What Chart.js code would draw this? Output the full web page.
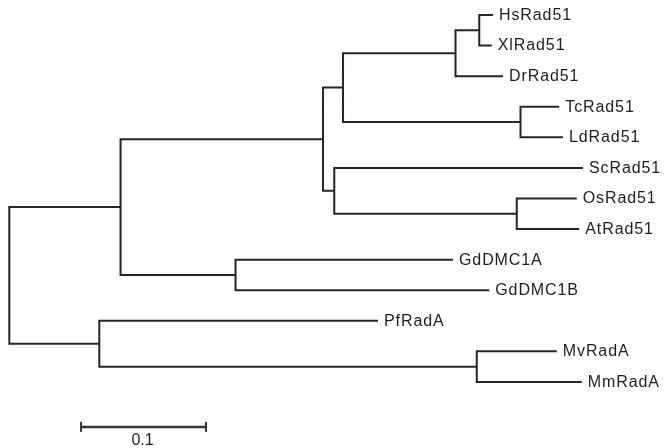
<!DOCTYPE html>
<html>
<head>
<meta charset="utf-8">
<script src="https://cdn.jsdelivr.net/npm/chart.js@4/dist/chart.umd.min.js"></script>
<style>
  html, body { margin: 0; padding: 0; background: #fff; }
  #wrap { width: 664px; height: 448px; }
</style>
</head>
<body>
<div id="wrap"><canvas id="tree"></canvas></div>
<script>
// leaves, top to bottom
const taxa = ['HsRad51', 'XlRad51', 'DrRad51', 'TcRad51', 'LdRad51', 'ScRad51', 'OsRad51',
              'AtRad51', 'GdDMC1A', 'GdDMC1B', 'PfRadA', 'MvRadA', 'MmRadA'];

// tree edges: child, parent, branch length (substitutions per site)
const childNodes  = ['nA', 'nR', 'nB', 'nDMC', 'nC', 'nD', 'nE', 'nF', 'nG',
                     'HsRad51', 'XlRad51', 'DrRad51', 'TcRad51', 'LdRad51', 'ScRad51', 'nH',
                     'OsRad51', 'AtRad51', 'GdDMC1A', 'GdDMC1B', 'PfRadA', 'nM', 'MvRadA', 'MmRadA'];
const parentNodes = ['root', 'root', 'nA', 'nA', 'nB', 'nB', 'nC', 'nC', 'nE',
                     'nG', 'nG', 'nE', 'nF', 'nF', 'nD', 'nD',
                     'nH', 'nH', 'nDMC', 'nDMC', 'nR', 'nR', 'nM', 'nM'];
const branchLengths = [0.089, 0.072, 0.162, 0.092, 0.016, 0.009, 0.090, 0.142, 0.019,
                       0.011, 0.010, 0.038, 0.031, 0.034, 0.199, 0.146,
                       0.048, 0.050, 0.174, 0.203, 0.223, 0.302, 0.064, 0.084];

// scale bar
const scaleBarLength = 0.1;
const scaleBarLabel = '0.1';

// depth of every node from root
const depth = { root: 0 };
const children = { root: [] };
childNodes.forEach((c, i) => {
    const p = parentNodes[i];
    depth[c] = depth[p] + branchLengths[i];
    (children[p] = children[p] || []).push(c);
});

function rowOf(node) {
    const k = children[node];
    if (!k) return taxa.indexOf(node);
    const ys = k.map(rowOf);
    return (Math.min(...ys) + Math.max(...ys)) / 2;
}

// one bracket per internal node, gaps between them
const branchPoints = [];
Object.keys(children).forEach(node => {
    const k = children[node];
    const top = k[0], bottom = k[k.length - 1];
    branchPoints.push(
        { x: depth[top], y: rowOf(top) },
        { x: depth[node], y: rowOf(top) },
        { x: depth[node], y: rowOf(bottom) },
        { x: depth[bottom], y: rowOf(bottom) },
        { x: depth[bottom], y: null }
    );
});

const barRow = 13.47;
const barStart = 0.0574;

const labelPlugin = {
    id: 'treeLabels',
    afterDatasetsDraw(chart) {
        const { ctx, scales: { x, y } } = chart;
        ctx.save();
        ctx.fillStyle = '#1e1e1e';
        ctx.font = '16px "Liberation Sans", Arial, sans-serif';
        ctx.textBaseline = 'middle';
        ctx.letterSpacing = '0.9px';
        taxa.forEach((name, i) => {
            ctx.fillText(name, x.getPixelForValue(depth[name]) + 6, y.getPixelForValue(i) + 0.5);
        });
        ctx.textAlign = 'center';
        ctx.letterSpacing = '0px';
        ctx.fillText(scaleBarLabel, x.getPixelForValue(barStart + scaleBarLength / 2) - 1,
                     y.getPixelForValue(barRow + 0.45));
        ctx.restore();
    }
};

new Chart(document.getElementById('tree'), {
    type: 'scatter',
    data: {
        datasets: [{
            label: 'branches',
            data: branchPoints,
            showLine: true,
            borderColor: '#262626',
            borderWidth: 2,
            borderJoinStyle: 'miter',
            pointRadius: 0,
            spanGaps: false,
            clip: false
        }, {
            label: 'scale bar',
            data: [{ x: barStart, y: barRow }, { x: barStart + scaleBarLength, y: barRow }],
            showLine: true,
            borderColor: '#333',
            borderWidth: 2.5,
            pointStyle: 'line',
            rotation: 90,
            pointRadius: 5,
            pointBorderWidth: 2,
            pointBorderColor: '#333',
            clip: false
        }]
    },
    options: {
        responsive: true,
        maintainAspectRatio: false,
        animation: false,
        layout: { autoPadding: false, padding: { left: 9.3, right: 0, top: 0, bottom: 0 } },
        scales: {
            x: { type: 'linear', display: false, min: 0, max: 0.5238 },
            y: { type: 'linear', display: false, reverse: true, min: -0.49, max: 14.16 }
        },
        plugins: {
            legend: { display: false },
            tooltip: { enabled: false }
        }
    },
    plugins: [labelPlugin]
});
</script>
</body>
</html>
